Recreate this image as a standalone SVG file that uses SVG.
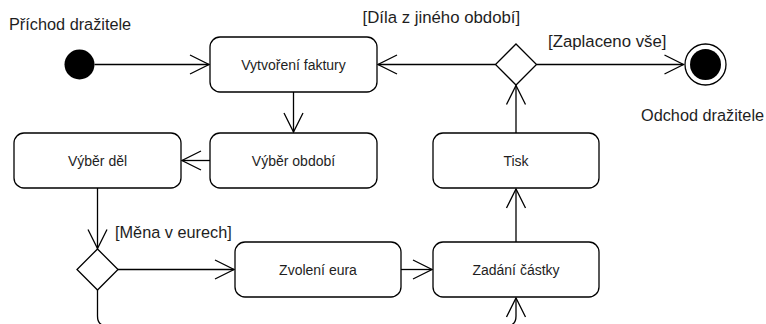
<svg xmlns="http://www.w3.org/2000/svg" width="766" height="324" viewBox="0 0 766 324">
  <style>
    .act { fill: #ffffff; stroke: #000000; stroke-width: 1.3; }
    .edge { fill: none; stroke: #000000; stroke-width: 1.3; }
    .lbl { font-family: "Liberation Sans", Arial, sans-serif; font-size: 16.3px; fill: #1e1e1e; }
    .guard { font-size: 16.8px; }
    .txt { font-family: "Liberation Sans", Arial, sans-serif; font-size: 14px; fill: #1e1e1e; text-anchor: middle; }
  </style>
  <defs>
    <marker id="open" viewBox="-21 -11 23 22" refX="0" refY="0" markerWidth="23" markerHeight="22" markerUnits="userSpaceOnUse" orient="auto" overflow="visible">
      <path d="M -19 -9.5 L 0 0 L -19 9.5" fill="none" stroke="#000000" stroke-width="1.3"/>
    </marker>
  </defs>

  <rect width="766" height="324" fill="#ffffff"/>

  <!-- connectors -->
  <g id="edges">
    <path class="edge" d="M 94.5 64.5 L 209 64.5" marker-end="url(#open)"/>
    <path class="edge" d="M 293.5 92 L 293.5 132" marker-end="url(#open)"/>
    <path class="edge" d="M 210 160.5 L 182 160.5" marker-end="url(#open)"/>
    <path class="edge" d="M 97.5 188 L 97.5 248.5" marker-end="url(#open)"/>
    <path class="edge" d="M 118 269.5 L 234 269.5" marker-end="url(#open)"/>
    <path class="edge" d="M 97.5 290 L 97.5 316 Q 97.5 326 107.5 326 L 506 326 Q 516 326 516 316 L 516 298" marker-end="url(#open)"/>
    <path class="edge" d="M 401 269.5 L 432 269.5" marker-end="url(#open)"/>
    <path class="edge" d="M 516 242 L 516 189" marker-end="url(#open)"/>
    <path class="edge" d="M 516 133 L 516 85.5" marker-end="url(#open)"/>
    <path class="edge" d="M 495.5 64.5 L 378 64.5" marker-end="url(#open)"/>
    <path class="edge" d="M 536.5 64.5 L 683.5 64.5" marker-end="url(#open)"/>
    <text class="lbl guard" x="362.5" y="23">[Díla z jiného období]</text>
    <text class="lbl guard" x="548" y="46.5">[Zaplaceno vše]</text>
    <text class="lbl" x="115" y="238">[Měna v eurech]</text>
  </g>

  <g id="start">
    <circle cx="79.5" cy="64.5" r="15" fill="#000000"/>
    <text class="lbl" x="9" y="30">Příchod dražitele</text>
  </g>

  <g id="vytvoreni-faktury">
    <rect class="act" x="210" y="37" width="167" height="55" rx="10"/>
    <text class="txt" x="293.5" y="69.5">Vytvoření faktury</text>
  </g>

  <g id="vyber-obdobi">
    <rect class="act" x="210" y="133" width="167" height="55" rx="10"/>
    <text class="txt" x="293.5" y="165.5">Výběr období</text>
  </g>

  <g id="vyber-del">
    <rect class="act" x="14" y="133" width="167" height="55" rx="10"/>
    <text class="txt" x="97.5" y="165.5">Výběr děl</text>
  </g>

  <g id="rozhodnuti-mena">
    <path class="act" d="M 97.5 249 L 118 269.5 L 97.5 290 L 77 269.5 Z"/>
  </g>

  <g id="zvoleni-eura">
    <rect class="act" x="235" y="242" width="166" height="55" rx="10"/>
    <text class="txt" x="318" y="274.5">Zvolení eura</text>
  </g>

  <g id="zadani-castky">
    <rect class="act" x="433" y="242" width="166" height="55" rx="10"/>
    <text class="txt" x="516" y="274.5">Zadání částky</text>
  </g>

  <g id="tisk">
    <rect class="act" x="433" y="133" width="166" height="55" rx="10"/>
    <text class="txt" x="516" y="165.5">Tisk</text>
  </g>

  <g id="rozhodnuti-platba">
    <path class="act" d="M 516 44 L 536.5 64.5 L 516 85 L 495.5 64.5 Z"/>
  </g>

  <g id="konec">
    <circle cx="705.5" cy="64.5" r="20.5" fill="#ffffff" stroke="#000000" stroke-width="1.3"/>
    <circle cx="705.5" cy="64.5" r="15.5" fill="#000000"/>
    <text class="lbl" x="641" y="121">Odchod dražitele</text>
  </g>
</svg>
